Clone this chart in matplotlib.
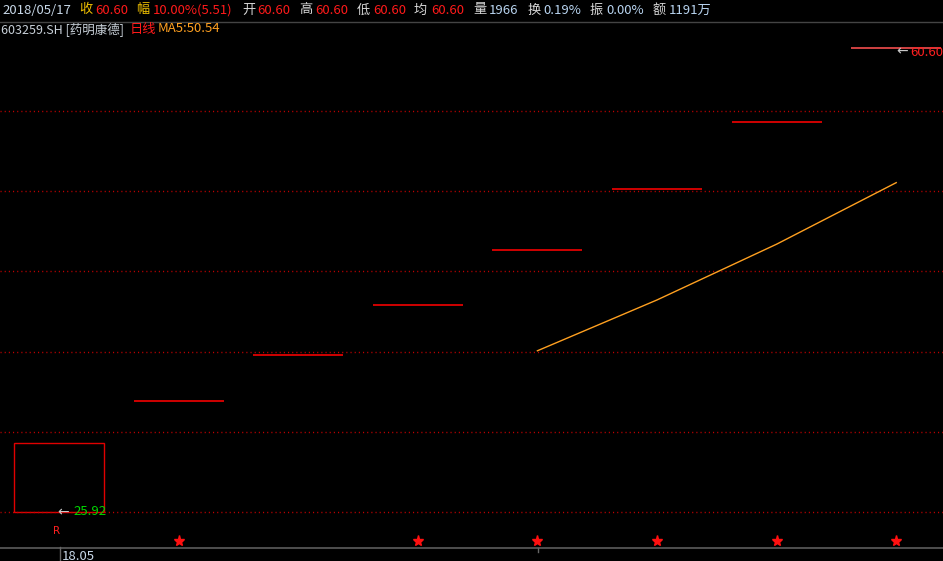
import numpy as np
import matplotlib.pyplot as plt
import matplotlib.transforms as mtransforms

plt.rcParams['font.family'] = ['Noto Sans CJK SC', 'DejaVu Sans']

# data
days = [0, 1, 2, 3, 4, 5, 6, 7]
opens = [25.92, 34.21, 37.63, 41.39, 45.53, 50.08, 55.09, 60.60]
closes = [31.10, 34.21, 37.63, 41.39, 45.53, 50.08, 55.09, 60.60]
ma5_days = [4, 5, 6, 7]
ma5 = [37.97, 41.77, 45.94, 50.54]
star_days = [1, 3, 4, 5, 6, 7]
low_price = 25.92
high_price = 60.60
grid_prices = [25.92, 31.91, 37.91, 43.90, 49.89, 55.88]

W, H = 943, 561
fig = plt.figure(figsize=(W / 100, H / 100), dpi=100, facecolor='black')

def fx(x):
    return x / W

def fy(y):
    return 1 - y / H

# main price axes: pixel rows 22..547
ax = fig.add_axes([0, fy(547), 1, (547 - 22) / H])
ax.set_facecolor('black')
ax.set_xlim(-0.493, 7.391)
ax.set_ylim(23.30, 62.55)
ax.axis('off')

for g in grid_prices:
    ax.axhline(g, color='#c00000', lw=1, ls=(0, (0.8, 2.2)))

w = 0.376
for d, o, c in zip(days, opens, closes):
    if o == c:
        col = '#e04848' if d == days[-1] else '#e00000'
        ax.plot([d - w, d + w], [c, c], color=col, lw=1.3, solid_capstyle='butt')
    else:
        ax.add_patch(plt.Rectangle((d - w, o), 2 * w, c - o, fill=False,
                                   edgecolor='#e00000', lw=1))

ax.plot(ma5_days, ma5, color='#ffa020', lw=1)

# low / high markers
ax.text(-0.01, low_price, '\u2190', color='#c8c8c8', fontsize=10, va='center', ha='left',
        family='DejaVu Sans')
ax.text(0.125, low_price, '25.92', color='#00d800', fontsize=9.5, va='center', ha='left')
ax.text(7.0, high_price - 0.25, '\u2190', color='#c8c8c8', fontsize=10, va='center', ha='left',
        family='DejaVu Sans')
ax.text(7.12, high_price - 0.35, '60.60', color='#ff2020', fontsize=9.5, va='center', ha='left')

# stars and R along the bottom
trans = mtransforms.blended_transform_factory(ax.transData, ax.transAxes)
ax.plot(star_days, [0.0115] * len(star_days), ls='none', marker='*',
        color='#ff1010', markersize=8, transform=trans, clip_on=False)
ax.text(-0.02, 0.031, 'R', color='#ff2020', fontsize=7.5, ha='center', va='center',
        transform=trans, family='DejaVu Sans')

# bottom axis
fig.add_artist(plt.Line2D([0, 1], [fy(547.5), fy(547.5)], color='#555555', lw=1.3))
fig.add_artist(plt.Line2D([fx(59.5), fx(59.5)], [fy(547), 0], color='#666666', lw=1))
fig.add_artist(plt.Line2D([fx(537.5), fx(537.5)], [fy(548), fy(552)], color='#666666', lw=1))
fig.text(fx(62), fy(556), '18.05', color='#c8d8e8', fontsize=9.5, va='center', ha='left')

# header
fig.add_artist(plt.Line2D([0, 1], [fy(21.5), fy(21.5)], color='#444444', lw=1))
header = [
    (2, '2018/05/17', '#c8d8e8'),
    (79, '收', '#f0c000'),
    (95, '60.60', '#ff1a1a'),
    (136, '幅', '#f0c000'),
    (153, '10.00%(5.51)', '#ff1a1a'),
    (242, '开', '#d8d8d8'),
    (257, '60.60', '#ff1a1a'),
    (299, '高', '#d8d8d8'),
    (315, '60.60', '#ff1a1a'),
    (357, '低', '#d8d8d8'),
    (373, '60.60', '#ff1a1a'),
    (414, '均', '#d8d8d8'),
    (431, '60.60', '#ff1a1a'),
    (473, '量', '#d8d8d8'),
    (489, '1966', '#b8d4f0'),
    (528, '换', '#d8d8d8'),
    (543, '0.19%', '#b8d4f0'),
    (590, '振', '#d8d8d8'),
    (606, '0.00%', '#b8d4f0'),
    (653, '额', '#d8d8d8'),
    (669, '1191万', '#b8d4f0'),
]
for x, s, col in header:
    fig.text(fx(x), fy(10), s, color=col, fontsize=9.5, va='center', ha='left')

fig.text(fx(1), fy(29), '603259.SH [药明康德]', color='#c8d0d8', fontsize=9, va='center', ha='left')
fig.text(fx(130), fy(29), '日线', color='#ff1a1a', fontsize=9.5, va='center', ha='left')
fig.text(fx(158), fy(29), 'MA5:50.54', color='#ffa020', fontsize=9.5, va='center', ha='left')

fig.savefig('out.png', dpi=100, facecolor='black')
